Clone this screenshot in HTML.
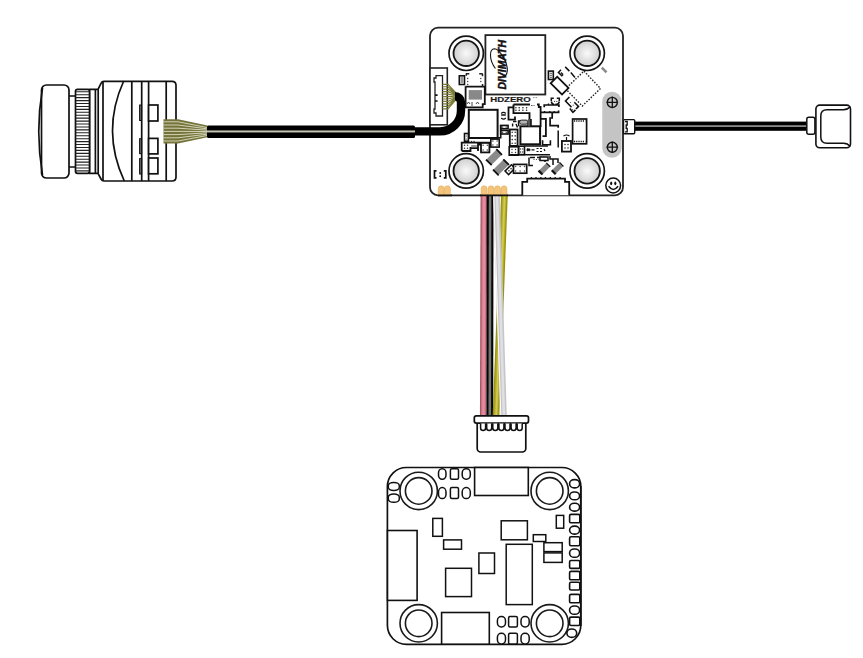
<!DOCTYPE html>
<html><head><meta charset="utf-8">
<style>
html,body{margin:0;padding:0;background:#fff;}
body{width:863px;height:658px;overflow:hidden;}
svg{display:block;font-family:"Liberation Sans",sans-serif;}
</style></head>
<body>
<svg width="863" height="658" viewBox="0 0 863 658">
<defs>
<radialGradient id="hole" cx="50%" cy="50%" r="50%">
<stop offset="0" stop-color="#fafafa"/><stop offset="1" stop-color="#cfcfcf"/>
</radialGradient>
</defs>
<rect width="863" height="658" fill="#fff"/>

<g fill="#fff" stroke="#111" stroke-width="1.7">
<path d="M69 96 H76 M69 167 H76"/>
<rect x="41.5" y="85" width="27.5" height="93" rx="5"/>
<path d="M42.5 88 Q35 131.5 42.5 175" fill="none"/>
<path d="M89.5 89.3 H98 L101 83.3 Q102 81.3 104 81.3 H172 Q176 81.3 176 85.3 V177 Q176 181 172 181 H104 Q102 181 101 179 L98 173.3 H89.5 Z"/>
<rect x="75.5" y="89.3" width="14" height="84" rx="2"/>
<path d="M95.4 89.3 V173.3 M98.2 89.3 V173.3 M103 81.3 V181 M131.8 81.3 V181 M141.7 81 V181 M148.6 81.3 V181 M166.2 81.3 V181" fill="none"/>
<path d="M123.7 81 Q101 131 124.3 181" fill="none"/>
<rect x="148.6" y="105" width="9.3" height="16"/>
<rect x="148.6" y="138.4" width="9.3" height="15.5"/>
<rect x="148.6" y="158" width="9.3" height="15.8"/>
<rect x="139.6" y="105" width="2" height="15.5" fill="#666" stroke-width="1"/>
<rect x="139.6" y="138.7" width="2" height="15" fill="#666" stroke-width="1"/>
<rect x="139.6" y="158.6" width="2" height="15.4" fill="#666" stroke-width="1"/>
</g>
<path d="M76 91.80 H89 M76 94.73 H89 M76 97.66 H89 M76 100.59 H89 M76 103.52 H89 M76 106.45 H89 M76 109.38 H89 M76 112.31 H89 M76 115.24 H89 M76 118.17 H89 M76 121.10 H89 M76 124.03 H89 M76 126.96 H89 M76 129.89 H89 M76 132.82 H89 M76 135.75 H89 M76 138.68 H89 M76 141.61 H89 M76 144.54 H89 M76 147.47 H89 M76 150.40 H89 M76 153.33 H89 M76 156.26 H89 M76 159.19 H89 M76 162.12 H89 M76 165.05 H89 M76 167.98 H89 M76 170.91 H89" stroke="#222" stroke-width="1.1" fill="none"/>
<path d="M163.5 119.2 H178 L207.5 125.5 V137.3 L178 143.5 H163.5 Z" fill="#74743a"/>
<path d="M163.5 121.80 H178 L207 127.50 M163.5 125.00 H178 L207 128.83 M163.5 128.20 H178 L207 130.17 M163.5 131.40 H178 L207 131.50 M163.5 134.60 H178 L207 132.83 M163.5 137.80 H178 L207 134.17 M163.5 141.00 H178 L207 135.50" stroke="#dcdcc4" stroke-width="0.9" fill="none"/>
<rect x="430" y="27.7" width="193" height="167.6" rx="8" fill="#fff" stroke="#222" stroke-width="1.8"/>
<circle cx="466.2" cy="53.3" r="17.2" fill="#fff" stroke="#151515" stroke-width="1.7"/>
<circle cx="466.2" cy="53.3" r="12.7" fill="url(#hole)" stroke="#151515" stroke-width="1.8"/>
<circle cx="587.2" cy="53.3" r="17.2" fill="#fff" stroke="#151515" stroke-width="1.7"/>
<circle cx="587.2" cy="53.3" r="12.7" fill="url(#hole)" stroke="#151515" stroke-width="1.8"/>
<circle cx="466.2" cy="170.9" r="17.2" fill="#fff" stroke="#151515" stroke-width="1.7"/>
<circle cx="466.2" cy="170.9" r="12.7" fill="url(#hole)" stroke="#151515" stroke-width="1.8"/>
<circle cx="587.2" cy="170.9" r="17.2" fill="#fff" stroke="#151515" stroke-width="1.7"/>
<circle cx="587.2" cy="170.9" r="12.7" fill="url(#hole)" stroke="#151515" stroke-width="1.8"/>
<rect x="485.4" y="35.1" width="59.9" height="59.4" fill="#fff" stroke="#222" stroke-width="1.8"/>
<text transform="translate(505.8 89.6) rotate(-90)" font-size="10.4" font-weight="bold" font-style="italic" fill="#111" stroke="#111" stroke-width="0.45" textLength="49.5" lengthAdjust="spacingAndGlyphs">DIVIMATH</text>
<path d="M495.4 68.5 C489 60 489 49 494.5 48.8 C499 48.8 508 62 507.3 71 C507 75 505 76.5 503 76" fill="none" stroke="#111" stroke-width="1.1"/>
<rect x="430" y="68" width="17.3" height="56.8" fill="#fff" stroke="#222" stroke-width="1.6"/>
<path d="M436 75.6 H442.5 V116 H436 V113 H434 V109 H435 V82 H434 V78 H436 Z" fill="#fff" stroke="#222" stroke-width="1.3"/>
<path d="M435 95.1 h2.6 M435 101 h2.6" stroke="#111" stroke-width="1.6"/>
<path d="M442.4 84.30 H448 L455.5 92.50 M442.4 86.75 H448 L455.5 93.25 M442.4 89.20 H448 L455.5 94.00 M442.4 91.65 H448 L455.5 94.75 M442.4 94.10 H448 L455.5 95.50 M442.4 96.55 H448 L455.5 96.25 M442.4 99.00 H448 L455.5 97.00 M442.4 101.45 H448 L455.5 97.75 M442.4 103.90 H448 L455.5 98.50 M442.4 106.35 H448 L455.5 99.25 M442.4 108.80 H448 L455.5 100.00" stroke="#7a7a34" stroke-width="1.2" fill="none"/>
<path d="M465.6 86.3 V107.3 H482.7 V104.1 H484.8 V86.6 H465.6" fill="none" stroke="#111" stroke-width="1.8" />
<rect x="468.7" y="90.1" width="13.30" height="9.50" fill="#888" stroke="none" stroke-width="0" />
<path d="M467 104 l1.5 -2 l1.5 2 M472 106 v-4 M476 104 l1.5 -2 l1.5 2" fill="none" stroke="#333" stroke-width="0.9" />
<path d="M465.8 73.8 h3.5 M466.3 73.8 v2 M479.2 73.8 h3.5 M482.5 73.8 v2.5 M482.5 84 v2.5" fill="none" stroke="#222" stroke-width="1.5" />
<g fill="#444"><circle cx="467.7" cy="78.4" r="0.75"/><circle cx="467.7" cy="81.4" r="0.75"/><circle cx="467.7" cy="84.4" r="0.75"/><circle cx="480.8" cy="78.4" r="0.75"/><circle cx="480.8" cy="81.4" r="0.75"/></g>
<rect x="459.3" y="75.8" width="5.20" height="8.70" fill="#fff" stroke="#111" stroke-width="1.6" />
<path d="M460.6 78 h2.6 M460.6 80 h2.6 M460.6 82 h2.6" fill="none" stroke="#333" stroke-width="1.0" />
<text x="490.2" y="102.3" font-size="7.6" font-weight="bold" fill="#1a1a1a" stroke="#1a1a1a" stroke-width="0.15" textLength="40.6" lengthAdjust="spacingAndGlyphs">HDZERO</text>
<path d="M533 97.6 h1.6 M535.6 97.6 h1.6" fill="none" stroke="#777" stroke-width="0.8" />
<rect x="468.8" y="109.8" width="28.80" height="28.20" fill="#fff" stroke="#111" stroke-width="2.0" />
<rect x="520.4" y="126.3" width="19.70" height="18.00" fill="#fff" stroke="#111" stroke-width="2.0" />
<path d="M540.1 128 v15" fill="none" stroke="#111" stroke-width="1.8" stroke-dasharray="1.1 1.3"/>
<path d="M513.5 104.5 H530 M513.5 104.5 V113.1 H529.5 V126.3" fill="none" stroke="#111" stroke-width="1.9" />
<g fill="#222"><circle cx="515.9" cy="107.8" r="0.8"/><circle cx="519.2" cy="107.8" r="0.8"/><circle cx="522.9" cy="107.8" r="0.8"/><circle cx="526.6" cy="107.8" r="0.8"/><circle cx="515.9" cy="110.3" r="0.8"/><circle cx="519.2" cy="110.3" r="0.8"/><circle cx="522.9" cy="110.3" r="0.8"/><circle cx="526.6" cy="110.3" r="0.8"/></g>
<path d="M531 105.5 h1.5 M533.5 105.5 h1" fill="none" stroke="#555" stroke-width="1.0" />
<path d="M537 104.5 h1.8 v2.5 h1.8 V127" fill="none" stroke="#111" stroke-width="1.8" />
<path d="M513.5 107.4 H508.5 V119.7 H515 V116.4" fill="none" stroke="#111" stroke-width="1.8" />
<path d="M501.2 113.5 q2.3 -2.3 4.6 0 M501.2 115 h4.6 M501.2 118 q2.3 2.3 4.6 0" fill="none" stroke="#111" stroke-width="1.3" />
<path d="M518.6 126.3 V121 H525 M528 121 V126.3" fill="none" stroke="#111" stroke-width="1.5" />
<rect x="519.6" y="120.1" width="8.20" height="4.10" fill="#b4b4b4" stroke="#111" stroke-width="0.9" rx="1.8"/>
<rect x="527.8" y="119.2" width="3.20" height="7.10" fill="#555" stroke="none" stroke-width="0" />
<path d="M531 119 v7.3" fill="none" stroke="#111" stroke-width="1.6" />
<path d="M513 121.5 h3.5 M512.6 123.5 v3 M516 124 l1.5 3.5" fill="none" stroke="#111" stroke-width="1.4" />
<path d="M540.1 118.9 H545.9 V136.1 H542.5" fill="none" stroke="#111" stroke-width="1.8" />
<path d="M542.6 140.2 V144.7 H550.4 V140.2" fill="none" stroke="#111" stroke-width="1.6" />
<rect x="500.7" y="125.4" width="7.40" height="3.30" fill="#fff" stroke="#111" stroke-width="1.6" />
<g fill="#444"><circle cx="502.55" cy="127.05" r="0.75"/><circle cx="506.25" cy="127.05" r="0.75"/></g>
<rect x="500.7" y="130.4" width="7.40" height="3.60" fill="#fff" stroke="#111" stroke-width="1.6" />
<g fill="#444"><circle cx="502.55" cy="132.2" r="0.75"/><circle cx="506.25" cy="132.2" r="0.75"/></g>
<path d="M500.7 125 V137.7 H495" fill="none" stroke="#111" stroke-width="1.6" />
<rect x="509.8" y="129.5" width="7.80" height="16.40" fill="#fff" stroke="#111" stroke-width="1.8" />
<g fill="#333"><circle cx="512.2" cy="132.2" r="0.8"/><circle cx="515.2" cy="132.2" r="0.8"/><circle cx="512.2" cy="135.9" r="0.8"/><circle cx="515.2" cy="135.9" r="0.8"/><circle cx="512.2" cy="139.6" r="0.8"/><circle cx="515.2" cy="139.6" r="0.8"/><circle cx="512.2" cy="143.2" r="0.8"/><circle cx="515.2" cy="143.2" r="0.8"/></g>
<path d="M544.2 107.2 V105 H558.9 V107 M541 112.4 H558.6 V110.4 M552.2 112.4 V118 H550.1 V125.7 H558.2 V127.8" fill="none" stroke="#111" stroke-width="1.7" />
<path d="M548.5 105 v-1.5 M552.5 105 v-1.5 M556 105 v-1.5 M544.5 112.4 v-1.5 M549.8 112.4 v-1.5 M554.2 112.4 v-1.5" fill="none" stroke="#111" stroke-width="1.3" />
<path d="M551.3 101 V98.3 H553.8 M556.8 98.3 H559.3 V101 M551.3 101.5 Q551.8 104.2 554.2 104.5 M559.3 101.5 Q558.8 104.2 556.4 104.5" fill="none" stroke="#111" stroke-width="1.5" />
<g fill="#333"><circle cx="554.5" cy="101.3" r="0.65"/><circle cx="556.8" cy="101.3" r="0.65"/></g>
<path d="M558.2 130.4 V147.6" fill="none" stroke="#111" stroke-width="1.5" />
<rect x="509.2" y="146.8" width="9.20" height="8.40" fill="#fff" stroke="#111" stroke-width="1.6" />
<g fill="#333"><circle cx="512" cy="149.5" r="0.7"/><circle cx="515.5" cy="149.5" r="0.7"/><circle cx="512" cy="152.5" r="0.7"/><circle cx="515.5" cy="152.5" r="0.7"/></g>
<rect x="518.8" y="146.2" width="5.70" height="8.40" fill="#fff" stroke="#111" stroke-width="1.6" />
<g fill="#333"><circle cx="520.6" cy="149" r="0.7"/><circle cx="522.8" cy="149" r="0.7"/><circle cx="520.6" cy="152" r="0.7"/><circle cx="522.8" cy="152" r="0.7"/></g>
<path d="M509 154.8 H550 M524.5 146 H548" fill="none" stroke="#111" stroke-width="1.6" />
<path d="M527 148.5 l2.5 2.5 M527 151 l2.5 -2.5 M526.5 149.8 h4 M531.5 149.8 h3 M536.5 148.5 h2 M540 148.5 h2 M536.5 151.5 h2 M540 151.5 h2 M544 149 l1 2" fill="none" stroke="#111" stroke-width="1.2" />
<rect x="464.5" y="133.5" width="3.90" height="7.70" fill="#fff" stroke="#111" stroke-width="1.6" />
<g fill="#333"><circle cx="466.4" cy="136" r="0.6"/><circle cx="466.4" cy="139" r="0.6"/></g>
<path d="M461.7 151 V142.6 H468.4 V141.2 M461.7 151 H470.5 V148 H478 V144.5 H481 M468.4 142.6 H499.2" fill="none" stroke="#111" stroke-width="1.8" />
<g fill="#333"><circle cx="464.5" cy="145.3" r="0.75"/><circle cx="467.5" cy="145.3" r="0.75"/><circle cx="464.5" cy="148.3" r="0.75"/><circle cx="467.5" cy="148.3" r="0.75"/><circle cx="471.5" cy="141.5" r="0.75"/><circle cx="474" cy="141.5" r="0.75"/></g>
<rect x="471.2" y="145" width="5.60" height="2.50" fill="#999" stroke="none" stroke-width="0" />
<rect x="481" y="142.9" width="8.40" height="9.50" fill="#fff" stroke="#111" stroke-width="1.8" />
<g fill="#444"><circle cx="483.1" cy="145.28" r="0.75"/><circle cx="483.1" cy="150.03" r="0.75"/><circle cx="487.3" cy="145.28" r="0.75"/><circle cx="487.3" cy="150.03" r="0.75"/></g>
<rect x="490.8" y="139.1" width="8.40" height="8.00" fill="#fff" stroke="#111" stroke-width="1.6" />
<g fill="#444"><circle cx="492.9" cy="141.1" r="0.75"/><circle cx="492.9" cy="145.1" r="0.75"/><circle cx="497.1" cy="141.1" r="0.75"/><circle cx="497.1" cy="145.1" r="0.75"/></g>
<path d="M478 148 V151" fill="none" stroke="#111" stroke-width="1.8" />
<g transform="translate(494 157.2) rotate(-45)"><rect x="-7.3" y="-3.75" width="14.6" height="7.5" fill="#8a8a8a"/><path d="M-7.3 -4 V4 M7.3 -4 V4" stroke="#111" stroke-width="1.8"/></g>
<g transform="translate(501 167.3) rotate(-45)"><rect x="-7.3" y="-3.75" width="14.6" height="7.5" fill="#8a8a8a"/><path d="M-7.3 -4 V4 M7.3 -4 V4" stroke="#111" stroke-width="1.8"/></g>
<g transform="translate(510 169.7) rotate(-45)"><rect x="-4.5" y="-2.5" width="9" height="5" fill="#fff" stroke="#111" stroke-width="1.5"/><circle cx="-1.5" cy="0" r="0.8" fill="#333"/><circle cx="1.5" cy="0" r="0.8" fill="#333"/></g>
<rect x="513.5" y="164.4" width="13.20" height="8.80" fill="#fff" stroke="#111" stroke-width="1.7" />
<g fill="#444"><circle cx="515.7" cy="166.6" r="0.75"/><circle cx="515.7" cy="171.0" r="0.75"/><circle cx="520.1" cy="166.6" r="0.75"/><circle cx="520.1" cy="171.0" r="0.75"/><circle cx="524.5" cy="166.6" r="0.75"/><circle cx="524.5" cy="171.0" r="0.75"/></g>
<path d="M530 157.5 H535 M529 157.5 V165.5 H533 M537 157.5 h8 M545 157 v5" fill="none" stroke="#111" stroke-width="1.5" />
<g fill="#333"><circle cx="534" cy="159.5" r="0.6"/><circle cx="536.5" cy="159.5" r="0.6"/><circle cx="539" cy="159.5" r="0.6"/></g>
<rect x="540" y="157" width="8.00" height="3.50" fill="#fff" stroke="#111" stroke-width="1.5" />
<path d="M550 156 v3 h3 v6 M553 159 h5 v4" fill="none" stroke="#111" stroke-width="1.5" />
<g transform="translate(544.4 168.7) rotate(-45)"><rect x="-5.5" y="-2.6" width="11" height="5.2" fill="#888"/><path d="M-5.5 -2.8 V2.8" stroke="#111" stroke-width="2.2"/><path d="M5.5 -2.8 V2.8" stroke="#111" stroke-width="1.2"/></g>
<g transform="translate(557.6 168.3) rotate(-45)"><rect x="-5.5" y="-2.6" width="11" height="5.2" fill="#888"/><path d="M-5.5 -2.8 V2.8" stroke="#111" stroke-width="2.2"/><path d="M5.5 -2.8 V2.8" stroke="#111" stroke-width="1.2"/></g>
<path d="M522.3 195.3 V181.8 H527.2 V178.7 H565 V181.8 H569.2 V195.3" fill="#fff" stroke="#111" stroke-width="1.8" />
<path d="M531.4 178.7 v-1.8 M536 178.7 v-1.8 M540.9 178.7 v-1.8 M545.4 178.7 v-1.8 M550.3 178.7 v-1.8 M555.2 178.7 v-1.8 M560.1 178.7 v-1.8" fill="none" stroke="#111" stroke-width="1.3" />
<rect x="561.9" y="141" width="9.10" height="10.60" fill="#fff" stroke="#111" stroke-width="1.8" />
<g fill="#333"><circle cx="565" cy="144.5" r="0.8"/><circle cx="568" cy="144.5" r="0.8"/><circle cx="565" cy="148" r="0.8"/><circle cx="568" cy="148" r="0.8"/></g>
<path d="M563.5 136 q3 -2 6 0 M566.5 137 v3" fill="none" stroke="#111" stroke-width="1.2" />
<rect x="572.6" y="119" width="14.00" height="24.80" fill="#fff" stroke="#111" stroke-width="1.7" />
<path d="M574 121 H585.3 M574 141.5 H585.3" fill="none" stroke="#111" stroke-width="1.6" stroke-dasharray="1.2 1"/>
<rect x="602.3" y="91.8" width="19.3" height="66" rx="9.6" fill="#c4c4c4"/>
<circle cx="612.3" cy="102.4" r="5" fill="none" stroke="#111" stroke-width="1.4"/>
<path d="M606.5 102.4 H618.1 M612.3 96.60000000000001 V108.2" fill="none" stroke="#111" stroke-width="1.3" />
<circle cx="612.3" cy="147.2" r="5" fill="none" stroke="#111" stroke-width="1.4"/>
<path d="M606.5 147.2 H618.1 M612.3 141.39999999999998 V153.0" fill="none" stroke="#111" stroke-width="1.3" />
<circle cx="613.2" cy="185.5" r="7.4" fill="#fff" stroke="#111" stroke-width="1.5"/>
<path d="M608.6 186.3 q4.7 6.2 9.5 0" fill="none" stroke="#111" stroke-width="1.5" />
<ellipse cx="611.2" cy="183.3" rx="1.05" ry="1.9" fill="#111"/><ellipse cx="615.3" cy="183.3" rx="1.05" ry="1.9" fill="#111"/>
<path d="M436.5 170.8 h-2 v7 h2 M443.8 170.8 h2 v7 h-2" fill="none" stroke="#111" stroke-width="1.7" />
<g fill="#111"><circle cx="440.2" cy="173" r="0.95"/><circle cx="440.2" cy="176.3" r="0.95"/></g>
<path d="M584 71.1 L600.5 88.5 L582.3 106 L565.5 88.8 Z" fill="none" stroke="#222" stroke-width="1.4" stroke-dasharray="1.5 1.5"/>
<g transform="translate(559.6 85.6) rotate(45)"><rect x="-8" y="-4.6" width="16" height="9.2" fill="#fff" stroke="#111" stroke-width="1.8"/></g>
<rect x="548.4" y="71.1" width="4.90" height="8.40" fill="#fff" stroke="#111" stroke-width="1.6" />
<path d="M549.7 73.3 h2.3 M549.7 75.3 h2.3 M549.7 77.3 h2.3" fill="none" stroke="#444" stroke-width="0.9" />
<path d="M565.2 66.9 L569.4 71.1 M570.8 72.5 L575 77.4" fill="none" stroke="#111" stroke-width="1.5" />
<path d="M561 69.8 l-2.6 2.6 l3.4 3.4 l1.3 -1.3" fill="none" stroke="#111" stroke-width="1.5" />
<path d="M561 72.5 l2 2" fill="none" stroke="#111" stroke-width="1.2" />
<path d="M601.8 67.6 L606.5 72.3" fill="none" stroke="#8a8a8a" stroke-width="2.6" />
<path d="M569.4 97 L565.5 101 L571.5 107.3 M574.3 102.3 L578.5 106.4 L575.9 109 M569.8 108.5 L572.9 112.3 L575.5 109.8" fill="none" stroke="#111" stroke-width="1.6" />
<g fill="#555"><circle cx="570.5" cy="102.5" r="0.6"/><circle cx="573.2" cy="105.2" r="0.6"/><circle cx="572.5" cy="109.5" r="0.6"/></g>
<rect x="207" y="125.5" width="208" height="12.5" rx="1.5" fill="#000"/>
<path d="M412 131.4 H440 A21 21 0 0 0 461 110.4 V102.3 A6 6 0 0 0 455 96.3" fill="none" stroke="#000" stroke-width="8.4"/>
<rect x="207" y="130.45" width="208" height="2" fill="#c6c6b6"/>
<rect x="634" y="121.6" width="173" height="9.2" fill="#000"/>
<rect x="634" y="125.2" width="173" height="1.8" fill="#8a8a8a"/>
<rect x="623.5" y="119.6" width="11.2" height="14.2" rx="1" fill="#fff" stroke="#111" stroke-width="1.4"/>
<path d="M625 121.5 H627.2 V125 H626.2 V128.3 H627.2 V131.8 H625" fill="none" stroke="#111" stroke-width="1.3" />
<rect x="806.8" y="117.2" width="8.1" height="17" rx="2" fill="#fff" stroke="#111" stroke-width="1.5"/>
<rect x="815.9" y="105.1" width="34.6" height="42.7" rx="3.8" fill="#fff" stroke="#111" stroke-width="1.6"/>
<path d="M850.3 106.5 Q847.5 109.8 843.5 109.8 H827 Q820.8 109.8 820.8 116 V137 Q820.8 143.3 827 143.3 H843.5 Q847.5 143.3 850.3 146.5" fill="none" stroke="#111" stroke-width="1.5" />
<path d="M483.8 195.5 L483.2 416" stroke="#a45868" stroke-width="6.5" fill="none"/>
<path d="M484.0 195.5 L483.4 416" stroke="#cf7585" stroke-width="4.6" fill="none"/>
<path d="M484.1 195.5 L483.5 416" stroke="#e48c9c" stroke-width="2.6" fill="none"/>
<path d="M490.1 195.5 L489.8 416" stroke="#050505" stroke-width="6.8" fill="none"/>
<path d="M490.1 195.5 L489.8 416" stroke="#727272" stroke-width="2.6" fill="none"/>
<path d="M504.4 195.5 L496.0 416" stroke="#9a9414" stroke-width="6.7" fill="none"/>
<path d="M504.4 195.5 L496.0 416" stroke="#b4ac2a" stroke-width="4.2" fill="none"/>
<path d="M504.59999999999997 195.5 L496.2 416" stroke="#d2ca4c" stroke-width="1.8" fill="none"/>
<path d="M496.5 195.5 L503.5 416" stroke="#c6c6ca" stroke-width="6.6" fill="none"/>
<path d="M493.8 195.5 L500.8 416" stroke="#ffffff" stroke-width="1.0" fill="none"/>
<path d="M496.9 195.5 L503.9 416" stroke="#e0e0e2" stroke-width="2.6" fill="none"/>
<path d="M438.2 195.3 V188.8 a3 3 0 0 1 6 0 V195.3 Z" fill="#f4c47a" stroke="#d9a95e" stroke-width="0.5"/>
<path d="M444.4 195.3 V188.8 a3 3 0 0 1 6 0 V195.3 Z" fill="#f4c47a" stroke="#d9a95e" stroke-width="0.5"/>
<path d="M481.1 195.3 V188.8 a3 3 0 0 1 6 0 V195.3 Z" fill="#f4c47a" stroke="#d9a95e" stroke-width="0.5"/>
<path d="M488 195.3 V188.8 a3 3 0 0 1 6 0 V195.3 Z" fill="#f4c47a" stroke="#d9a95e" stroke-width="0.5"/>
<path d="M494.5 195.3 V188.8 a3 3 0 0 1 6 0 V195.3 Z" fill="#f4c47a" stroke="#d9a95e" stroke-width="0.5"/>
<path d="M501 195.3 V188.8 a3 3 0 0 1 6 0 V195.3 Z" fill="#f4c47a" stroke="#d9a95e" stroke-width="0.5"/>
<path d="M438 195.3 H452 M480 195.3 H508" fill="none" stroke="#111" stroke-width="1.8" />
<rect x="477.2" y="420" width="48.6" height="32" rx="3.5" fill="#fff" stroke="#111" stroke-width="1.7"/>
<rect x="474.3" y="415.9" width="54.2" height="7.2" rx="2" fill="#fff" stroke="#111" stroke-width="1.7"/>
<path d="M480.6 423.6 V428 a2.5 2.5 0 0 0 5 0 V423.6 M486.7 423.6 V428 a2.5 2.5 0 0 0 5 0 V423.6 M492.8 423.6 V428 a2.5 2.5 0 0 0 5 0 V423.6 M498.9 423.6 V428 a2.5 2.5 0 0 0 5 0 V423.6 M505.0 423.6 V428 a2.5 2.5 0 0 0 5 0 V423.6 M511.1 423.6 V428 a2.5 2.5 0 0 0 5 0 V423.6 M517.2 423.6 V428 a2.5 2.5 0 0 0 5 0 V423.6" fill="#fff" stroke="#111" stroke-width="1.5" />
<rect x="387.4" y="467.5" width="193.4" height="176.8" rx="19" fill="#fff" stroke="#111" stroke-width="1.7"/>
<circle cx="418.7" cy="490.9" r="18.7" fill="#fff" stroke="#1a1a1a" stroke-width="1.6"/>
<circle cx="418.7" cy="490.9" r="13.3" fill="#fff" stroke="#1a1a1a" stroke-width="1.6"/>
<circle cx="549.7" cy="490.9" r="18.7" fill="#fff" stroke="#1a1a1a" stroke-width="1.6"/>
<circle cx="549.7" cy="490.9" r="13.3" fill="#fff" stroke="#1a1a1a" stroke-width="1.6"/>
<circle cx="418.7" cy="623.3" r="18.7" fill="#fff" stroke="#1a1a1a" stroke-width="1.6"/>
<circle cx="418.7" cy="623.3" r="13.3" fill="#fff" stroke="#1a1a1a" stroke-width="1.6"/>
<circle cx="549.7" cy="623.3" r="18.7" fill="#fff" stroke="#1a1a1a" stroke-width="1.6"/>
<circle cx="549.7" cy="623.3" r="13.3" fill="#fff" stroke="#1a1a1a" stroke-width="1.6"/>
<rect x="388.3" y="482.4" width="11.00" height="8.10" rx="5.22" ry="3.24" fill="#fff" stroke="#111" stroke-width="1.5"/>
<rect x="388.3" y="494" width="11.00" height="8.30" rx="5.22" ry="3.32" fill="#fff" stroke="#111" stroke-width="1.5"/>
<rect x="438.5" y="468.7" width="7.50" height="10.60" rx="3.56" ry="4.24" fill="#fff" stroke="#111" stroke-width="1.5"/>
<rect x="450.4" y="468.7" width="8.10" height="10.60" rx="1.5" fill="#fff" stroke="#111" stroke-width="1.5"/>
<rect x="462.2" y="468.7" width="8.10" height="10.60" rx="3.85" ry="4.24" fill="#fff" stroke="#111" stroke-width="1.5"/>
<rect x="438.5" y="487.6" width="7.50" height="11.00" rx="3.56" ry="4.40" fill="#fff" stroke="#111" stroke-width="1.5"/>
<rect x="450.4" y="487.6" width="8.10" height="11.00" rx="1.5" fill="#fff" stroke="#111" stroke-width="1.5"/>
<rect x="462.2" y="487.6" width="8.10" height="11.00" rx="3.85" ry="4.40" fill="#fff" stroke="#111" stroke-width="1.5"/>
<rect x="497.4" y="616.5" width="8.10" height="10.50" rx="3.85" ry="4.20" fill="#fff" stroke="#111" stroke-width="1.5"/>
<rect x="508.6" y="616.5" width="8.80" height="10.50" rx="1.5" fill="#fff" stroke="#111" stroke-width="1.5"/>
<rect x="521" y="616.5" width="8.20" height="10.50" rx="3.90" ry="4.20" fill="#fff" stroke="#111" stroke-width="1.5"/>
<rect x="497.4" y="633.3" width="8.10" height="10.60" rx="3.85" ry="4.24" fill="#fff" stroke="#111" stroke-width="1.5"/>
<rect x="508.6" y="633.3" width="8.80" height="10.60" rx="1.5" fill="#fff" stroke="#111" stroke-width="1.5"/>
<rect x="521" y="633.3" width="8.20" height="10.60" rx="3.90" ry="4.24" fill="#fff" stroke="#111" stroke-width="1.5"/>
<rect x="569.6" y="479.60" width="10" height="8.30" rx="4.6" ry="3.9" fill="#fff" stroke="#111" stroke-width="1.6"/>
<rect x="569.6" y="492.00" width="10" height="7.80" rx="4.6" ry="3.9" fill="#fff" stroke="#111" stroke-width="1.6"/>
<rect x="569.6" y="503.30" width="10" height="7.80" rx="4.6" ry="3.9" fill="#fff" stroke="#111" stroke-width="1.6"/>
<rect x="569.6" y="514.4" width="10.20" height="8.40" rx="1.4" fill="#fff" stroke="#111" stroke-width="1.6"/>
<rect x="569.6" y="526.10" width="10" height="8.00" rx="4.6" ry="3.9" fill="#fff" stroke="#111" stroke-width="1.6"/>
<rect x="569.6" y="536.8" width="10.20" height="8.90" rx="1.4" fill="#fff" stroke="#111" stroke-width="1.6"/>
<rect x="569.6" y="549.00" width="10" height="8.30" rx="4.6" ry="3.9" fill="#fff" stroke="#111" stroke-width="1.6"/>
<rect x="569.6" y="560.5" width="10.20" height="7.90" rx="1.4" fill="#fff" stroke="#111" stroke-width="1.6"/>
<rect x="569.6" y="571.4" width="10.20" height="8.40" rx="1.4" fill="#fff" stroke="#111" stroke-width="1.6"/>
<rect x="569.6" y="582.3" width="10.20" height="7.70" rx="1.4" fill="#fff" stroke="#111" stroke-width="1.6"/>
<rect x="569.6" y="594.4" width="10.20" height="8.40" rx="1.4" fill="#fff" stroke="#111" stroke-width="1.6"/>
<rect x="569.6" y="606.00" width="10" height="8.30" rx="4.6" ry="3.9" fill="#fff" stroke="#111" stroke-width="1.6"/>
<rect x="569.6" y="617.1" width="10.20" height="8.40" rx="1.4" fill="#fff" stroke="#111" stroke-width="1.6"/>
<rect x="566.9" y="629" width="9.8" height="8.4" rx="4.9" ry="4.2" fill="#fff" stroke="#111" stroke-width="1.6"/>
<path d="M580.8 486 V626" stroke="#111" stroke-width="1.7" fill="none"/>
<rect x="474.6" y="467.5" width="53.70" height="28.00" fill="#fff" stroke="#111" stroke-width="1.6" />
<rect x="387.5" y="530.5" width="29.60" height="69.90" fill="#fff" stroke="#111" stroke-width="1.6" />
<rect x="441.6" y="612.5" width="47.70" height="31.70" fill="#fff" stroke="#111" stroke-width="1.6" />
<rect x="432.8" y="518.4" width="9.60" height="17.90" fill="#fff" stroke="#111" stroke-width="1.5" />
<rect x="443.6" y="539.9" width="17.90" height="9.30" fill="#fff" stroke="#111" stroke-width="1.5" />
<rect x="445.6" y="568.3" width="25.90" height="28.30" fill="#fff" stroke="#111" stroke-width="1.5" />
<rect x="478.9" y="553" width="15.60" height="20.50" fill="#fff" stroke="#111" stroke-width="1.5" />
<rect x="501.2" y="520.8" width="26.20" height="19.00" fill="#fff" stroke="#111" stroke-width="1.5" />
<rect x="506.2" y="544.3" width="26.10" height="60.30" fill="#fff" stroke="#111" stroke-width="1.5" />
<rect x="533.3" y="534.7" width="12.50" height="6.80" fill="#fff" stroke="#111" stroke-width="1.5" />
<rect x="543.9" y="542.7" width="18.30" height="8.90" fill="#fff" stroke="#111" stroke-width="1.5" />
<rect x="543.9" y="552.9" width="18.30" height="9.50" fill="#fff" stroke="#111" stroke-width="1.5" />
<rect x="556.3" y="515.4" width="7.40" height="12.80" fill="#fff" stroke="#111" stroke-width="1.5" />
</svg>
</body></html>
